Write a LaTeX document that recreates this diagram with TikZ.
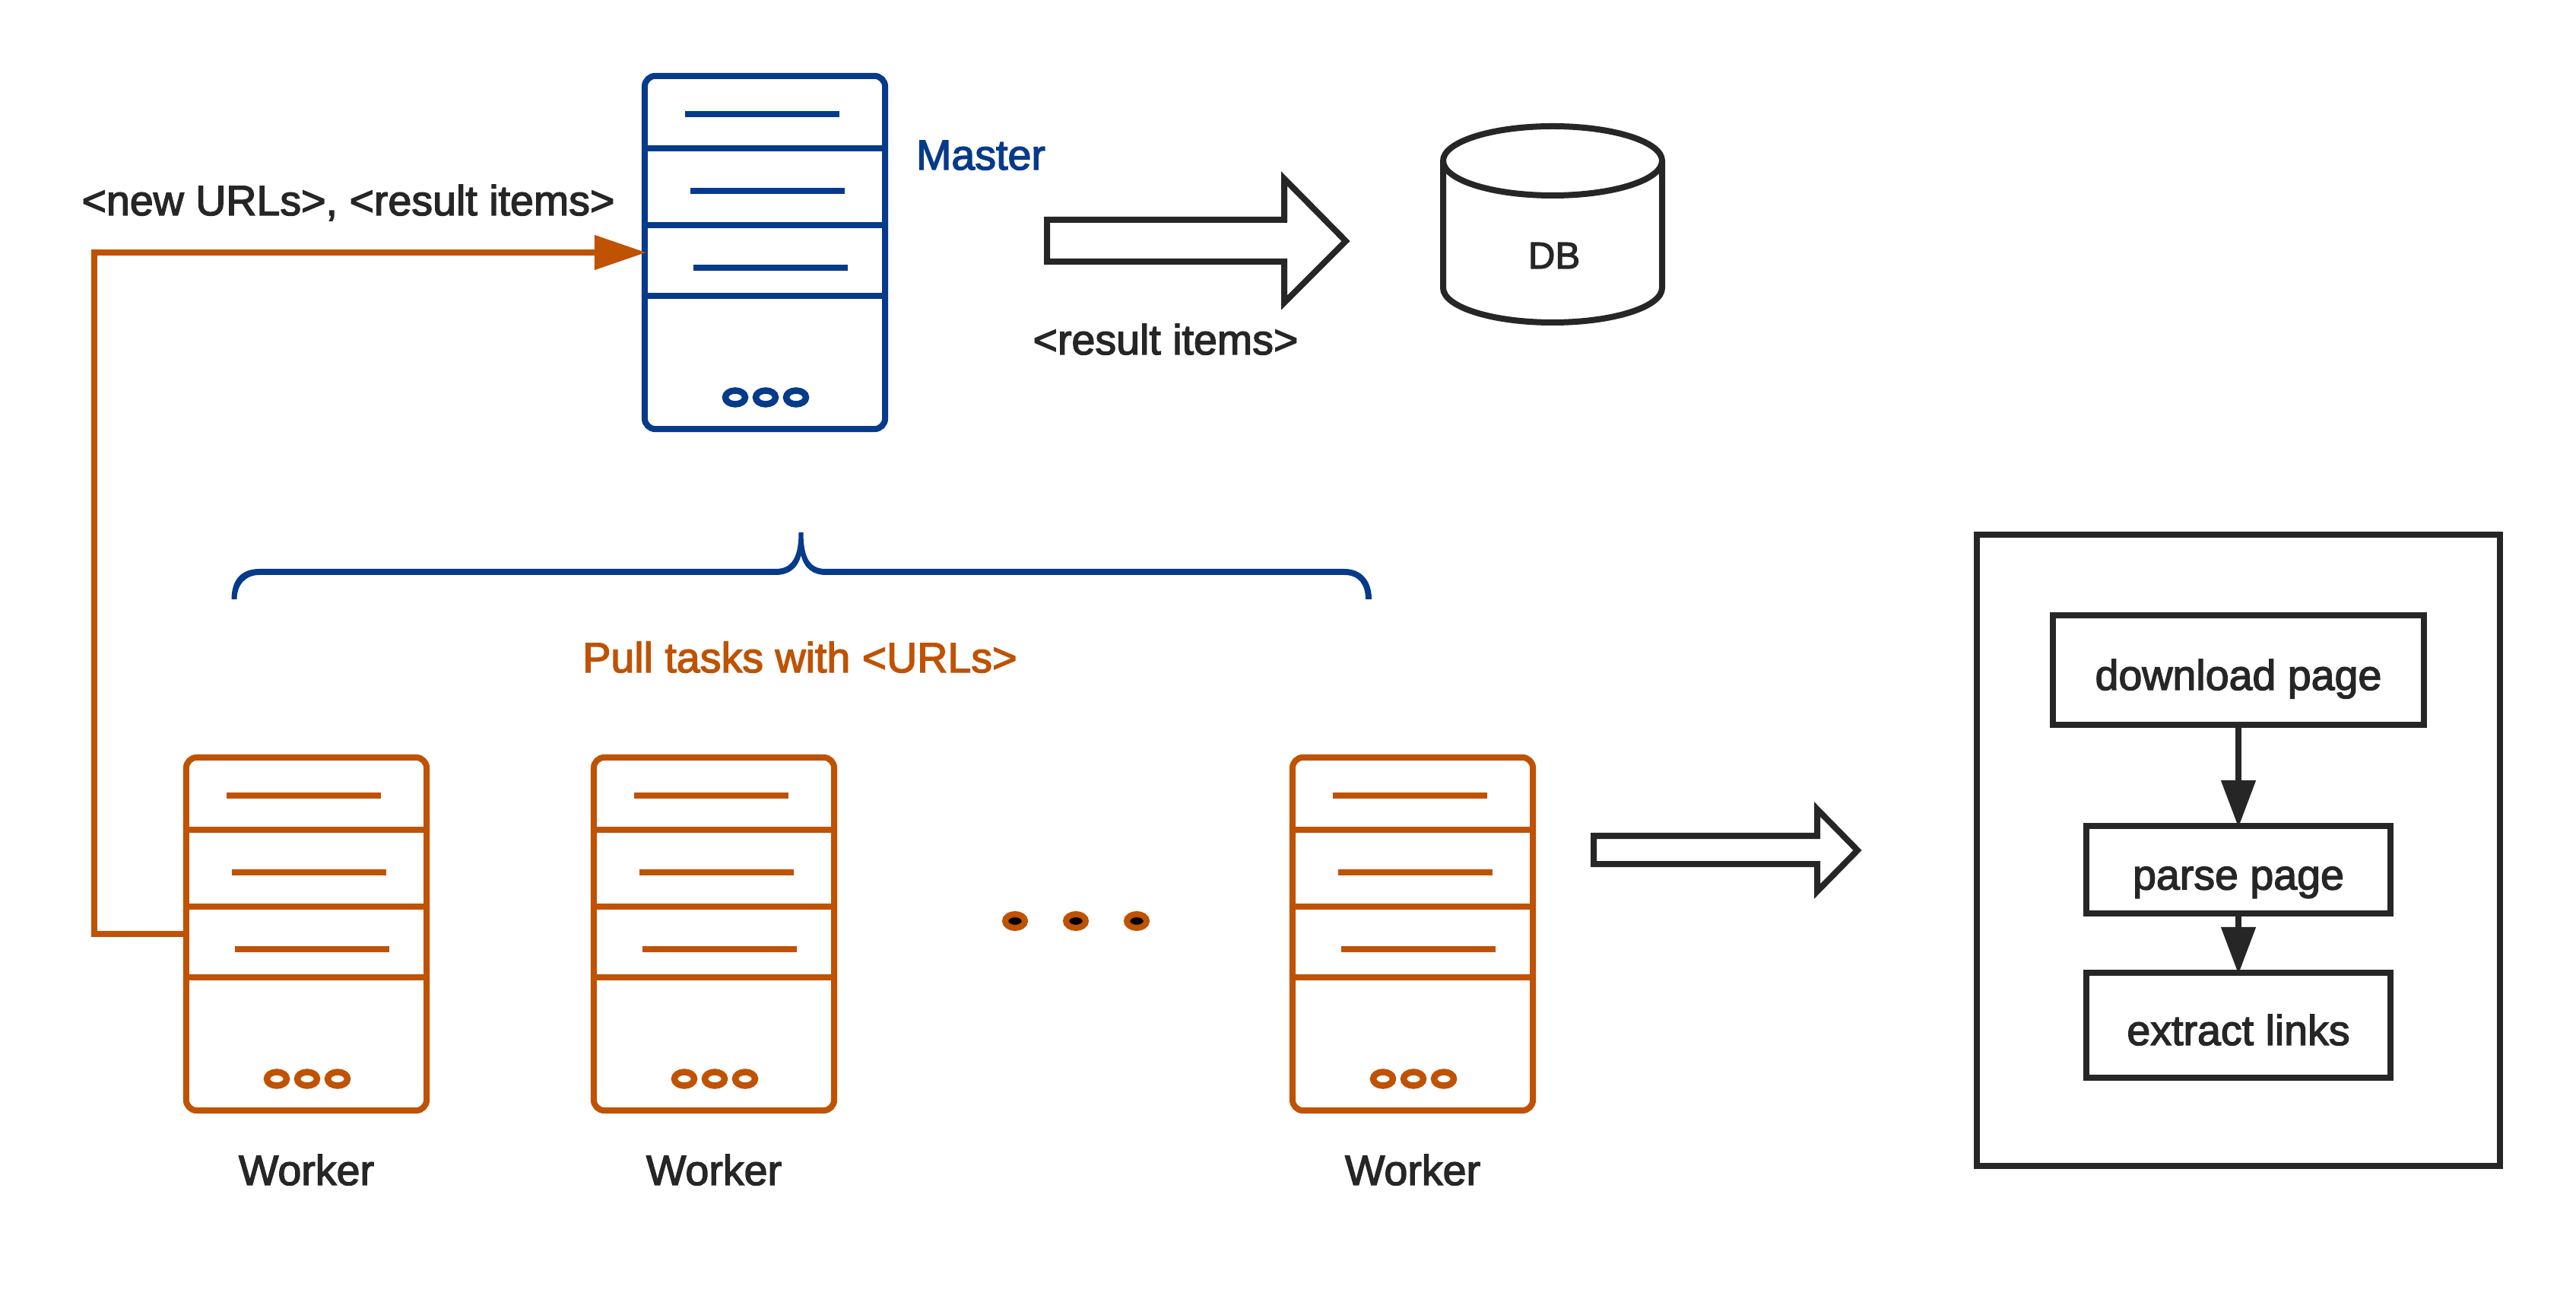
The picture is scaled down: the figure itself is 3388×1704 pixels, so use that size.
\documentclass[tikz,border=0pt]{standalone}
\usepackage{fontspec}
\setmainfont{Liberation Sans}[FakeBold=2.5]
\usepackage{tikz}
\usetikzlibrary{arrows.meta}
\definecolor{masterblue}{HTML}{063A8A}
\definecolor{workerorange}{HTML}{BF5203}
\definecolor{inkblack}{HTML}{262626}
\tikzstyle{server}=[rectangle, line width=.08cm, rounded corners=.14cm, minimum width=3.16cm, minimum height=4.64cm]
\tikzstyle{label}=[anchor=base, text=inkblack, font=\fontsize{15.8pt}{18pt}\selectfont]
\tikzstyle{taskbox}=[rectangle, line width=.08cm, draw=inkblack, text=inkblack, text height=.52cm, text depth=0pt, font=\fontsize{15.8pt}{18pt}\selectfont]
\tikzstyle{blockarrow}=[line width=.08cm, draw=inkblack, miter limit=10]
\newcommand{\serverunit}[3]{
  \node (#1) [server, draw=#3] at (#2) {};
  \begin{scope}[shift={(#1.center)}, #3, line width=.085cm]
    \foreach \y in {-137,-36,57} \draw (-158,\y) -- (158,\y);
    \draw (-105,-182) -- (98,-182);
    \draw (-98,-81) -- (105,-81);
    \draw (-94,20) -- (109,20);
    \foreach \x in {-39,1,41} \draw (\x,190.5) ellipse (13 and 9);
  \end{scope}
}
\begin{document}
\begin{tikzpicture}[x=.01cm,y=-.01cm,>={Triangle[length=.62cm,width=.44cm]}]
    \useasboundingbox (0,0) rectangle (3388,1704);
    % servers
    \serverunit{M}{1006,332}{masterblue}
    \serverunit{W1}{403,1228}{workerorange}
    \serverunit{W2}{939,1228}{workerorange}
    \serverunit{W3}{1858,1228}{workerorange}
    \node (Mlabel) [label, text=masterblue] at (1290,223) {Master};
    \node (W1label) [label] at (403,1558) {Worker};
    \node (W2label) [label] at (939,1558) {Worker};
    \node (W3label) [label] at (1858,1558) {Worker};
    \foreach \x in {1335,1415,1495}
      \draw [workerorange, line width=.08cm, fill=black] (\x,1211) ellipse (13 and 9);
    % worker reports back to master
    \coordinate (Wbend) at (124,1228);
    \draw [-{Triangle[length=.68cm,width=.44cm]}, workerorange, line width=.08cm, shorten >=-.06cm] (W1.west) -- (Wbend) |- (M.west);
    \node (newitems) [label] at (458,283) {<new URLs>, <result items>};
    % brace over the workers
    \fill [masterblue] (304.5,788) .. controls (304.5,765) and (315,748) .. (341,748)
      -- (1020,748) .. controls (1040,748) and (1050.5,735) .. (1050.5,700) -- (1056.5,700)
      .. controls (1056.5,735) and (1066,748) .. (1086,748) -- (1768,748)
      .. controls (1792,748) and (1804,765) .. (1804,788) -- (1796,788)
      .. controls (1796,770) and (1788,756) .. (1768,756) -- (1086,756)
      .. controls (1070,756) and (1058,748) .. (1053.5,730)
      .. controls (1049,748) and (1037,756) .. (1020,756) -- (341,756)
      .. controls (322,756) and (311.5,770) .. (311.5,788) -- cycle;
    \node (pull) [label, text=workerorange] at (1052,884) {Pull tasks with <URLs>};
    % master to database
    \draw [blockarrow] (1377,289) -- (1689,289) -- (1689,235) -- (1770,317)
      -- (1689,398) -- (1689,344) -- (1377,344) -- cycle;
    \node (items) [label] at (1533,466) {<result items>};
    \draw [inkblack, line width=.08cm] (1898,211.5) -- (1898,378.5)
      arc [start angle=180, end angle=360, x radius=144, y radius=-45.5] -- (2186,211.5);
    \draw [inkblack, line width=.08cm] (2042,211.5) ellipse (144 and 45.5);
    \node (DB) [anchor=base, text=inkblack, font=\fontsize{14pt}{17pt}\selectfont] at (2044,353) {DB};
    % worker internals
    \draw [blockarrow] (2096,1099) -- (2390,1099) -- (2390,1064) -- (2443,1118)
      -- (2390,1172) -- (2390,1136) -- (2096,1136) -- cycle;
    \node (panel) [rectangle, line width=.08cm, draw=inkblack, minimum width=6.88cm, minimum height=8.30cm] at (2944,1118) {};
    \node (download) [taskbox, minimum width=4.88cm, minimum height=1.44cm] at (2944,881) {download page};
    \node (parse) [taskbox, minimum width=4.00cm, minimum height=1.15cm] at (2944,1143.5) {parse page};
    \node (extract) [taskbox, minimum width=4.00cm, minimum height=1.38cm] at (2944,1348) {extract links};
    \path [->, draw=inkblack, line width=.08cm, inkblack, shorten >=-.06cm]
    (download) edge (parse)
    (parse) edge (extract);
\end{tikzpicture}
\end{document}
